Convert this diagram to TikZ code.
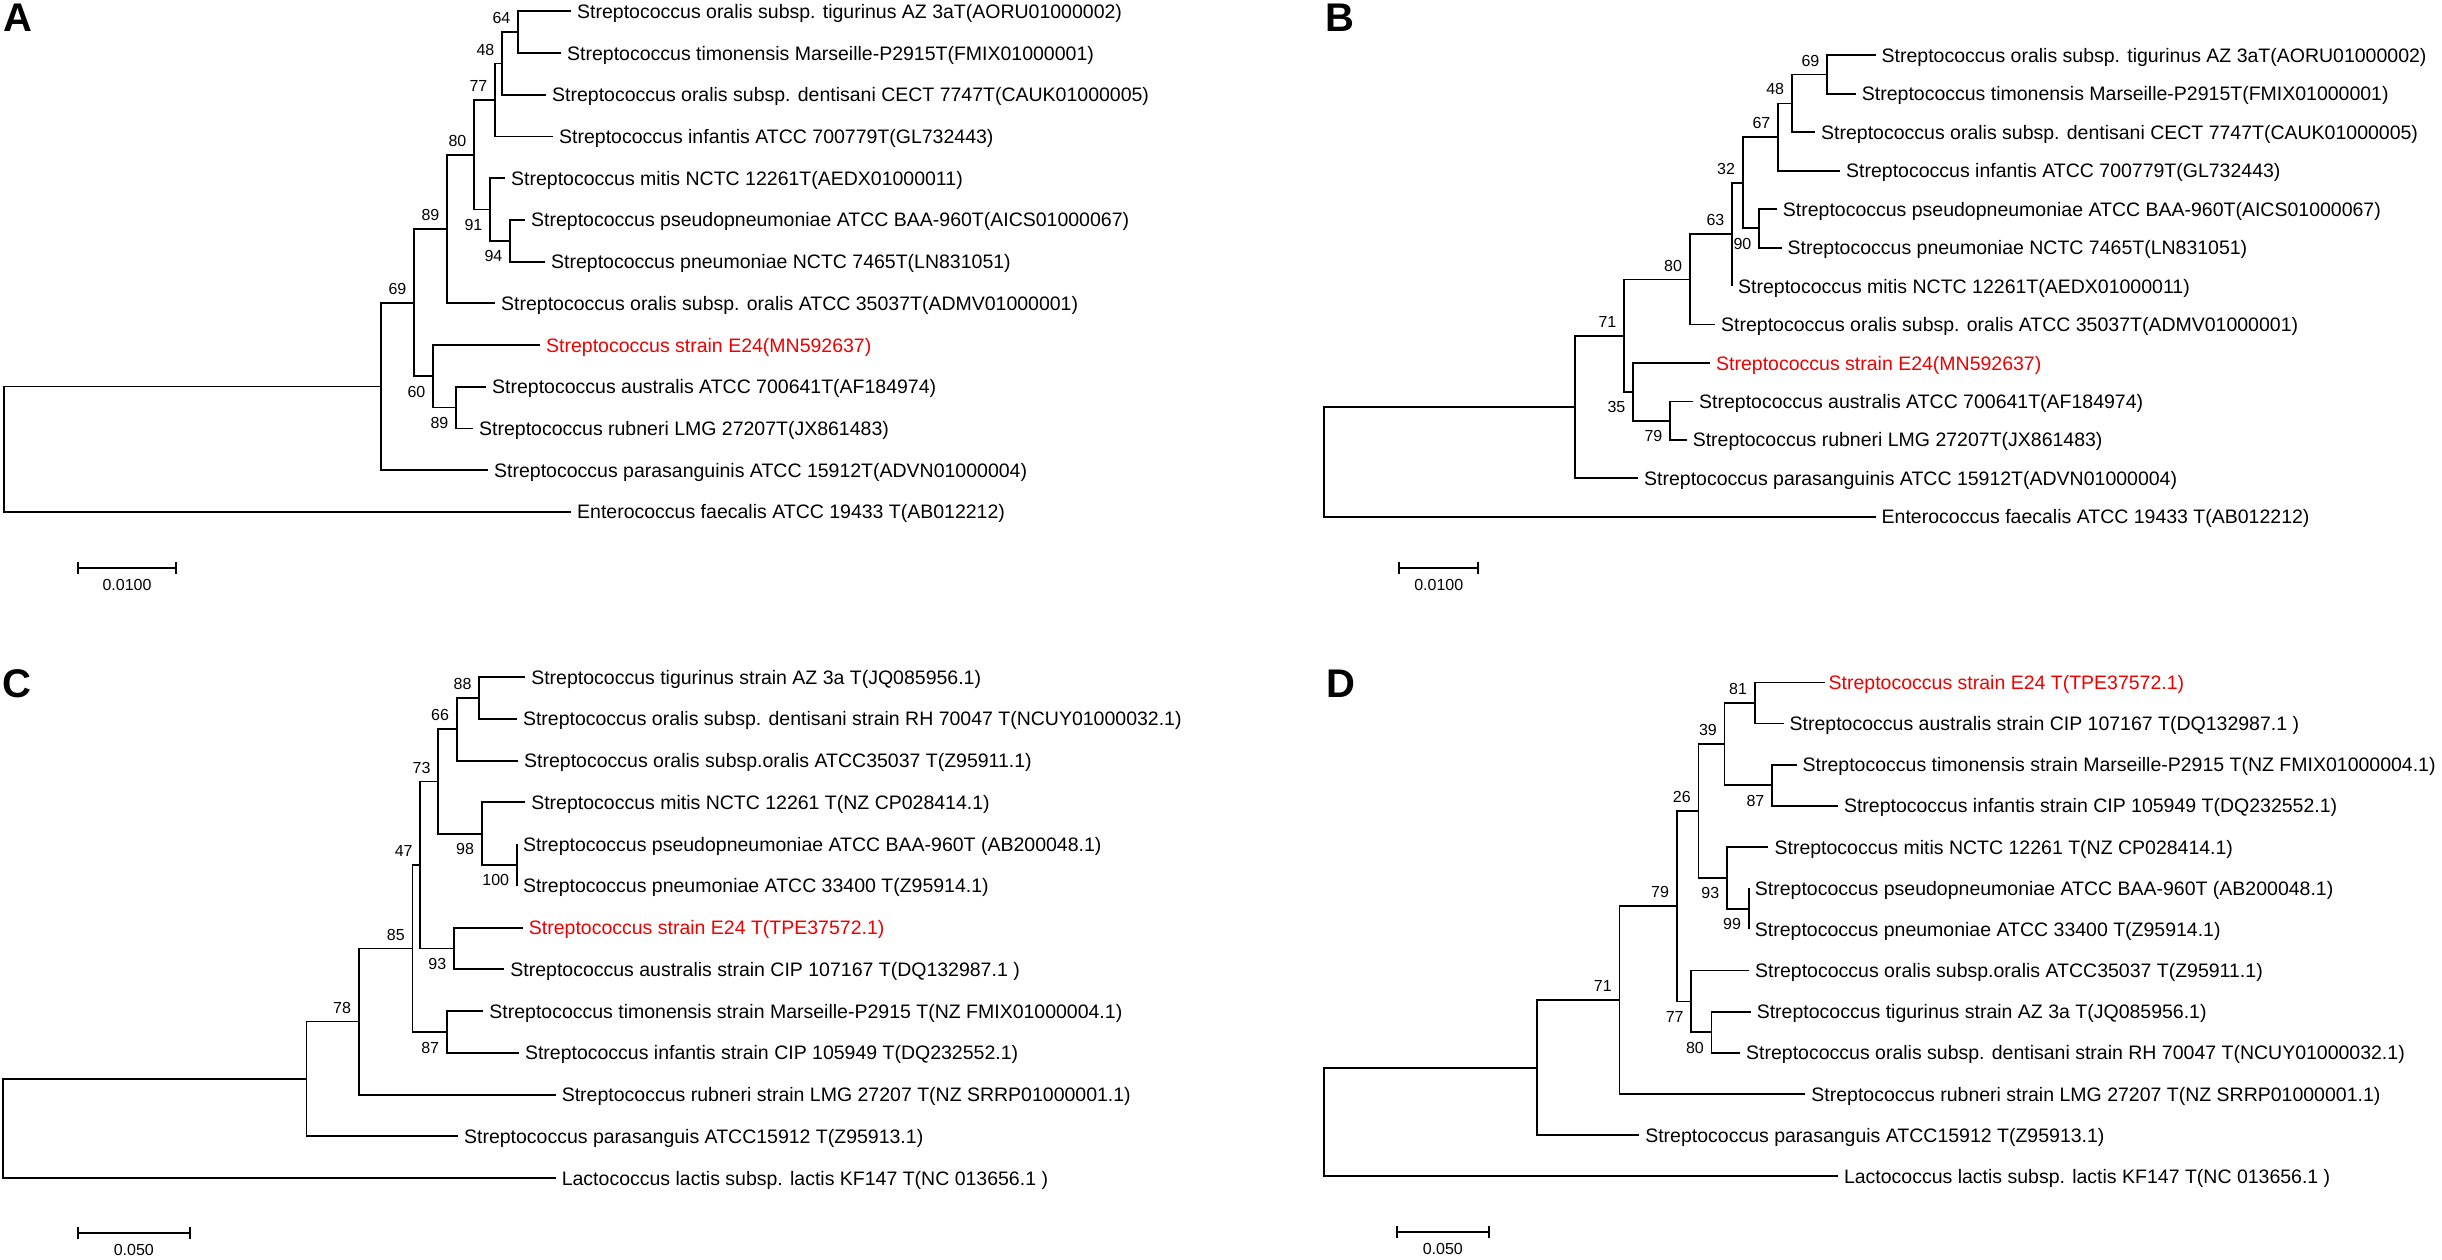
\documentclass[tikz,border=0pt]{standalone}
\usepackage{fontspec}
\usetikzlibrary{calc}
\setmainfont{Liberation Sans}
\definecolor{e24red}{RGB}{238,0,0}
\newcommand\leafnode[5][]{\coordinate (#2) at (#3,#4); \node[lab,#1] (#2t) at (#3+6,#4+7) {#5};}
\newcommand\innode[3]{\coordinate (#1) at (#2,#3);}
\newcommand\bsup[2]{\node[bsupst] (#1b) at (#1) {#2};}
\newcommand\bsdn[2]{\node[bsdnst] (#1b) at (#1) {#2};}
\newcommand\scalebar[5]{%
  \coordinate (#1l) at (#2,#4); \coordinate (#1r) at (#3,#4);
  \draw[br] (#1l) -- (#1r);
  \draw[br] ([yshift=6pt]#1l) -- ([yshift=-6pt]#1l);
  \draw[br] ([yshift=6pt]#1r) -- ([yshift=-6pt]#1r);
  \node[sbl] (#1t) at ($(#1l)!0.5!(#1r)+(0,17)$) {#5};}
\begin{document}
\begin{tikzpicture}[x=1pt,y=-1pt,
  br/.style={line width=1.8pt},
  lab/.style={anchor=base west, inner sep=0pt, font=\fontsize{19.5}{22}\selectfont},
  red24/.style={text=e24red},
  bsst/.style={anchor=east, inner sep=0pt, xshift=-7.5pt, font=\fontsize{16}{18}\selectfont},
  bsupst/.style={bsst, yshift=14pt},
  bsdnst/.style={bsst, yshift=-15.5pt},
  sbl/.style={inner sep=0pt, font=\fontsize{16}{18}\selectfont},
  panel/.style={anchor=base west, inner sep=0pt, font=\fontsize{40}{44}\selectfont\bfseries}]
\useasboundingbox[fill=white] (0,0) rectangle (2442,1260);

% ---------------- Panel A ----------------
\node[panel] (pA) at (3,32) {A};
\leafnode{atig}{571}{11.4}{Streptococcus oralis subsp. tigurinus AZ 3aT(AORU01000002)}
\leafnode{atim}{561}{53.1}{Streptococcus timonensis Marseille-P2915T(FMIX01000001)}
\leafnode{aden}{546}{94.8}{Streptococcus oralis subsp. dentisani CECT 7747T(CAUK01000005)}
\leafnode{ainf}{553}{136.5}{Streptococcus infantis ATCC 700779T(GL732443)}
\leafnode{amit}{505}{178.2}{Streptococcus mitis NCTC 12261T(AEDX01000011)}
\leafnode{apse}{525}{219.9}{Streptococcus pseudopneumoniae ATCC BAA-960T(AICS01000067)}
\leafnode{apne}{545}{261.6}{Streptococcus pneumoniae NCTC 7465T(LN831051)}
\leafnode{aora}{495}{303.3}{Streptococcus oralis subsp. oralis ATCC 35037T(ADMV01000001)}
\leafnode[red24]{ae24}{540}{345}{Streptococcus strain E24(MN592637)}
\leafnode{aaus}{486}{386.7}{Streptococcus australis ATCC 700641T(AF184974)}
\leafnode{arub}{473}{428.4}{Streptococcus rubneri LMG 27207T(JX861483)}
\leafnode{apar}{488}{470.1}{Streptococcus parasanguinis ATCC 15912T(ADVN01000004)}
\leafnode{aent}{571}{511.8}{Enterococcus faecalis ATCC 19433 T(AB012212)}
\innode{aN6}{518}{32.25}
\innode{aN5}{502}{63.5}
\innode{aN4}{495}{100}
\innode{aN8}{510}{240.75}
\innode{aN7}{490}{209.5}
\innode{aN3}{474}{154.75}
\innode{aN2}{447}{229}
\innode{aN10}{456}{407.55}
\innode{aN9}{433}{376.3}
\innode{aN1b}{414}{302.65}
\innode{aN1}{381}{386.4}
\innode{aR}{4}{449.1}
\foreach \p/\c in {aN6/atig,aN6/atim,aN5/aN6,aN5/aden,aN4/aN5,aN4/ainf,aN8/apse,aN8/apne,
  aN7/amit,aN7/aN8,aN3/aN4,aN3/aN7,aN2/aN3,aN2/aora,aN10/aaus,aN10/arub,aN9/ae24,aN9/aN10,
  aN1b/aN2,aN1b/aN9,aN1/aN1b,aN1/apar,aR/aN1,aR/aent}
  \draw[br] (\p) |- (\c);
\bsup{aN6}{64}\bsup{aN5}{48}\bsup{aN4}{77}\bsup{aN3}{80}\bsup{aN2}{89}\bsup{aN1b}{69}
\bsdn{aN7}{91}\bsdn{aN8}{94}\bsdn{aN9}{60}\bsdn{aN10}{89}
\scalebar{asb}{78.3}{175.7}{568.3}{0.0100}

% ---------------- Panel B ----------------
\node[panel] (pB) at (1325,32) {B};
\leafnode{btig}{1875.5}{55.4}{Streptococcus oralis subsp. tigurinus AZ 3aT(AORU01000002)}
\leafnode{btim}{1855.7}{93.85}{Streptococcus timonensis Marseille-P2915T(FMIX01000001)}
\leafnode{bden}{1815}{132.3}{Streptococcus oralis subsp. dentisani CECT 7747T(CAUK01000005)}
\leafnode{binf}{1840}{170.75}{Streptococcus infantis ATCC 700779T(GL732443)}
\leafnode{bpse}{1776.7}{209.2}{Streptococcus pseudopneumoniae ATCC BAA-960T(AICS01000067)}
\leafnode{bpne}{1781.5}{247.65}{Streptococcus pneumoniae NCTC 7465T(LN831051)}
\leafnode{bmit}{1732}{286.1}{Streptococcus mitis NCTC 12261T(AEDX01000011)}
\leafnode{bora}{1715}{324.55}{Streptococcus oralis subsp. oralis ATCC 35037T(ADMV01000001)}
\leafnode[red24]{be24}{1710}{363}{Streptococcus strain E24(MN592637)}
\leafnode{baus}{1693}{401.45}{Streptococcus australis ATCC 700641T(AF184974)}
\leafnode{brub}{1686.6}{439.9}{Streptococcus rubneri LMG 27207T(JX861483)}
\leafnode{bpar}{1638}{478.35}{Streptococcus parasanguinis ATCC 15912T(ADVN01000004)}
\leafnode{bent}{1875.5}{516.8}{Enterococcus faecalis ATCC 19433 T(AB012212)}
\innode{bX}{1827}{74.6}
\innode{bW}{1791.8}{103.45}
\innode{bV}{1778}{137.1}
\innode{bU}{1759}{228.4}
\innode{bT}{1742.7}{182.75}
\innode{bS}{1732}{234.4}
\innode{bR}{1689.7}{279.5}
\innode{bZ}{1670}{420.7}
\innode{bY}{1633}{391.85}
\innode{bQ}{1624}{335.7}
\innode{bP}{1574.7}{407}
\innode{bRt}{1323.6}{461.9}
\foreach \p/\c in {bX/btig,bX/btim,bW/bX,bW/bden,bV/bW,bV/binf,bU/bpse,bU/bpne,bT/bV,bT/bU,
  bS/bT,bS/bmit,bR/bS,bR/bora,bZ/baus,bZ/brub,bY/be24,bY/bZ,bQ/bR,bQ/bY,bP/bQ,bP/bpar,bRt/bP,bRt/bent}
  \draw[br] (\p) |- (\c);
\bsup{bX}{69}\bsup{bW}{48}\bsup{bV}{67}\bsup{bT}{32}\bsup{bS}{63}\bsup{bR}{80}\bsup{bQ}{71}
\bsdn{bU}{90}\bsdn{bY}{35}\bsdn{bZ}{79}
\scalebar{bsb}{1399.3}{1478.3}{568.3}{0.0100}

% ---------------- Panel C ----------------
\node[panel] (pC) at (2.5,697.5) {C};
\leafnode{ctig}{525.1}{677.1}{Streptococcus tigurinus strain AZ 3a T(JQ085956.1)}
\leafnode{cden}{516.8}{718.85}{Streptococcus oralis subsp. dentisani strain RH 70047 T(NCUY01000032.1)}
\leafnode{cora}{518}{760.6}{Streptococcus oralis subsp.oralis ATCC35037 T(Z95911.1)}
\leafnode{cmit}{525.1}{802.35}{Streptococcus mitis NCTC 12261 T(NZ CP028414.1)}
\leafnode{cpse}{516.8}{844.1}{Streptococcus pseudopneumoniae ATCC BAA-960T (AB200048.1)}
\leafnode{cpne}{516.8}{885.85}{Streptococcus pneumoniae ATCC 33400 T(Z95914.1)}
\leafnode[red24]{ce24}{522.7}{927.6}{Streptococcus strain E24 T(TPE37572.1)}
\leafnode{caus}{504.2}{969.35}{Streptococcus australis strain CIP 107167 T(DQ132987.1 )}
\leafnode{ctim}{483.2}{1011.1}{Streptococcus timonensis strain Marseille-P2915 T(NZ FMIX01000004.1)}
\leafnode{cinf}{518.8}{1052.85}{Streptococcus infantis strain CIP 105949 T(DQ232552.1)}
\leafnode{crub}{555.6}{1094.6}{Streptococcus rubneri strain LMG 27207 T(NZ SRRP01000001.1)}
\leafnode{cpar}{457.9}{1136.35}{Streptococcus parasanguis ATCC15912 T(Z95913.1)}
\leafnode{clac}{555.6}{1178.1}{Lactococcus lactis subsp. lactis KF147 T(NC 013656.1 )}
\innode{cA}{479.2}{697.95}
\innode{cB}{456.7}{729.3}
\innode{cD}{516.8}{864.98}
\innode{cC}{481.6}{833.7}
\innode{cE}{438.1}{781.5}
\innode{cF}{453.9}{948.5}
\innode{cG}{420.3}{865}
\innode{cH}{446.8}{1032}
\innode{cI}{412.4}{948.5}
\innode{cJ}{358.6}{1021.55}
\innode{cK}{306.4}{1078.95}
\innode{cRt}{3.2}{1128.5}
\foreach \p/\c in {cA/ctig,cA/cden,cB/cA,cB/cora,cD/cpse,cD/cpne,cC/cmit,cC/cD,cE/cB,cE/cC,
  cF/ce24,cF/caus,cG/cE,cG/cF,cH/ctim,cH/cinf,cI/cG,cI/cH,cJ/cI,cJ/crub,cK/cJ,cK/cpar,cRt/cK,cRt/clac}
  \draw[br] (\p) |- (\c);
\bsup{cA}{88}\bsup{cB}{66}\bsup{cE}{73}\bsup{cG}{47}\bsup{cI}{85}\bsup{cJ}{78}
\bsdn{cC}{98}\bsdn{cD}{100}\bsdn{cF}{93}\bsdn{cH}{87}
\scalebar{csb}{77.9}{189.8}{1233}{0.050}

% ---------------- Panel D ----------------
\node[panel] (pD) at (1326,697.5) {D};
\leafnode[red24,xshift=-2pt]{de24}{1824.5}{682.4}{Streptococcus strain E24 T(TPE37572.1)}
\leafnode{daus}{1783.5}{723.56}{Streptococcus australis strain CIP 107167 T(DQ132987.1 )}
\leafnode{dtim}{1796.5}{764.72}{Streptococcus timonensis strain Marseille-P2915 T(NZ FMIX01000004.1)}
\leafnode{dinf}{1837.8}{805.88}{Streptococcus infantis strain CIP 105949 T(DQ232552.1)}
\leafnode{dmit}{1768.4}{847.04}{Streptococcus mitis NCTC 12261 T(NZ CP028414.1)}
\leafnode{dpse}{1748.7}{888.2}{Streptococcus pseudopneumoniae ATCC BAA-960T (AB200048.1)}
\leafnode{dpne}{1748.7}{929.36}{Streptococcus pneumoniae ATCC 33400 T(Z95914.1)}
\leafnode{dora}{1749}{970.52}{Streptococcus oralis subsp.oralis ATCC35037 T(Z95911.1)}
\leafnode{dtig}{1750.6}{1011.68}{Streptococcus tigurinus strain AZ 3a T(JQ085956.1)}
\leafnode{dden}{1740}{1052.84}{Streptococcus oralis subsp. dentisani strain RH 70047 T(NCUY01000032.1)}
\leafnode{drub}{1805.2}{1094}{Streptococcus rubneri strain LMG 27207 T(NZ SRRP01000001.1)}
\leafnode{dpar}{1639.1}{1135.16}{Streptococcus parasanguis ATCC15912 T(Z95913.1)}
\leafnode{dlac}{1837.8}{1176.32}{Lactococcus lactis subsp. lactis KF147 T(NC 013656.1 )}
\innode{dA}{1754.6}{702.98}
\innode{dB}{1772}{785.3}
\innode{dC}{1724.5}{744.14}
\innode{dE}{1748.7}{908.78}
\innode{dD}{1726.9}{877.9}
\innode{dF}{1698.4}{811.0}
\innode{dH}{1711.5}{1032.26}
\innode{dG}{1691.3}{1001.4}
\innode{dI}{1676.7}{906.2}
\innode{dJ}{1619.4}{1000.1}
\innode{dK}{1537.1}{1067.6}
\innode{dRt}{1323.6}{1122}
\foreach \p/\c in {dA/de24,dA/daus,dB/dtim,dB/dinf,dC/dA,dC/dB,dE/dpse,dE/dpne,dD/dmit,dD/dE,
  dF/dC,dF/dD,dH/dtig,dH/dden,dG/dora,dG/dH,dI/dF,dI/dG,dJ/dI,dJ/drub,dK/dJ,dK/dpar,dRt/dK,dRt/dlac}
  \draw[br] (\p) |- (\c);
\bsup{dA}{81}\bsup{dC}{39}\bsup{dF}{26}\bsup{dI}{79}\bsup{dJ}{71}
\bsdn{dB}{87}\bsdn{dD}{93}\bsdn{dE}{99}\bsdn{dG}{77}\bsdn{dH}{80}
\scalebar{dsb}{1396.7}{1488.9}{1232}{0.050}
\end{tikzpicture}
\end{document}
